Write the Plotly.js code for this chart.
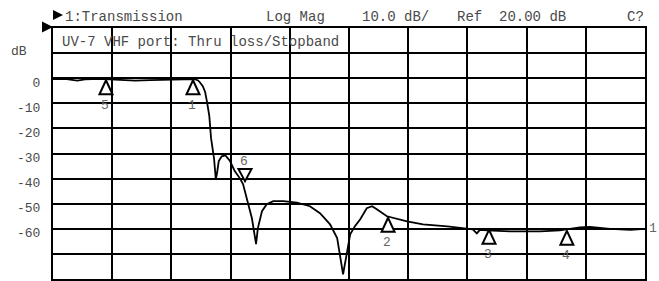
<!DOCTYPE html>
<html>
<head>
<meta charset="utf-8">
<script src="https://cdn.plot.ly/plotly-3.0.1.min.js"></script>
<style>html,body{margin:0;padding:0;background:#fff;}#chart{width:659px;height:281px;}</style>
</head>
<body>
<div id="chart"></div>
<script>
// Trace: x in graticule divisions (0..10), y in dB
const traceX = [0, 0.2, 0.41, 0.54, 0.79, 1.13, 1.39, 1.64, 1.98, 2.31, 2.40, 2.45, 2.48, 2.53, 2.57, 2.60, 2.64, 2.67, 2.72, 2.75, 2.77, 2.80, 2.85, 2.91, 2.99, 3.07, 3.16, 3.21, 3.29, 3.36, 3.43, 3.46, 3.53, 3.61, 3.72, 3.89, 4.12, 4.34, 4.51, 4.68, 4.80, 4.85, 4.90, 4.97, 5.02, 5.10, 5.19, 5.30, 5.39, 5.47, 5.64, 5.98, 6.25, 6.66, 7.09, 7.16, 7.21, 7.33, 7.72, 8.23, 8.56, 8.90, 9.07, 9.41, 9.75, 10];
const traceDB = [-0.4, -0.3, -1.0, -0.5, -0.3, -0.8, -1.0, -0.8, -0.5, -0.3, -0.4, -0.9, -1.6, -3.2, -5.5, -9.2, -15, -23.9, -31.9, -40.2, -38, -33, -31.1, -30.7, -33, -37, -40, -42.2, -49, -55.8, -66.1, -59.8, -53, -50.2, -49, -49, -49.6, -51, -53.8, -58.2, -63.7, -70.1, -78.1, -68.9, -62.2, -59, -56.2, -51.8, -51, -52.2, -55, -57, -58.2, -59, -60.2, -61.8, -60.4, -60.6, -61, -61, -60.6, -59.4, -59.2, -60, -60.4, -60];

// Markers
const markerLabels = ['5', '1', '6', '2', '3', '4'];
const markerX = [0.895, 2.365, 3.243, 5.66, 7.365, 8.68];
const markerDB = [-0.8, -0.8, -41, -55.6, -60.4, -60.8];
const markerDir = ['up', 'up', 'down', 'up', 'up', 'up'];

// Axis ticks
const yTickVals = [20, 10, 0, -10, -20, -30, -40, -50, -60, -70, -80];
const yTickText = ['', '', '0', '-10', '-20', '-30', '-40', '-50', '-60', '', ''];

// Header texts
const headerTexts = ['1:Transmission', 'Log Mag', '10.0 dB/', 'Ref  20.00 dB', 'C?'];
const headerOffsets = [12, 213, 309, 404, 574];
const subtitle = 'UV-7 VHF port: Thru loss/Stopband';

const FONT = 'Liberation Mono, Courier New, monospace';
const TXT = '#4a4a4a';

const shapes = [];
const annotations = [];

markerX.forEach((mx, i) => {
  const up = markerDir[i] === 'up';
  shapes.push({
    type: 'path', xref: 'x', yref: 'y',
    xsizemode: 'pixel', ysizemode: 'pixel',
    xanchor: mx, yanchor: markerDB[i],
    path: up ? 'M0,0 L-6.5,-14 L6.5,-14 Z' : 'M0,0 L-6.5,12 L6.5,12 Z',
    line: {color: '#000', width: 2}, fillcolor: '#fff', layer: 'above'
  });
  annotations.push({
    x: mx, y: markerDB[i], xref: 'x', yref: 'y', text: markerLabels[i], showarrow: false,
    xanchor: 'center', yanchor: 'middle', yshift: up ? -25 : 20, xshift: -1,
    font: {family: FONT, size: 13, color: '#666'}
  });
});

// right-end channel label
annotations.push({
  x: traceX[traceX.length - 1], y: traceDB[traceDB.length - 1], xref: 'x', yref: 'y',
  text: '1', showarrow: false, xanchor: 'left', yanchor: 'middle', xshift: 2,
  font: {family: FONT, size: 13, color: '#666'}
});

headerTexts.forEach((t, i) => {
  annotations.push({
    x: 0, y: 1, xref: 'paper', yref: 'paper', text: t, showarrow: false,
    xanchor: 'left', yanchor: 'middle', xshift: headerOffsets[i] - 2, yshift: 11,
    font: {family: FONT, size: 14, color: TXT}
  });
});
annotations.push({
  x: 0, y: 1, xref: 'paper', yref: 'paper', text: subtitle, showarrow: false,
  xanchor: 'left', yanchor: 'middle', xshift: 7, yshift: -14,
  font: {family: FONT, size: 14, color: TXT}
});
annotations.push({
  x: 0, y: 10, xref: 'paper', yref: 'y', text: 'dB', showarrow: false,
  xanchor: 'right', yanchor: 'middle', xshift: -24, yshift: 2,
  font: {family: FONT, size: 13, color: TXT}
});

// black pointer triangles (paper-referenced so they are not clipped)
shapes.push({
  type: 'path', xref: 'paper', yref: 'paper', xsizemode: 'pixel', ysizemode: 'pixel',
  xanchor: 0, yanchor: 1, path: 'M0,1 L-11,6.5 L-11,-4.5 Z',
  fillcolor: '#000', line: {width: 0}
});
shapes.push({
  type: 'path', xref: 'paper', yref: 'paper', xsizemode: 'pixel', ysizemode: 'pixel',
  xanchor: 0, yanchor: 1, path: 'M0,8 L0,18 L10,13 Z',
  fillcolor: '#000', line: {width: 0}
});

const data = [{
  x: traceX, y: traceDB, type: 'scatter', mode: 'lines',
  line: {color: '#000', width: 1.8}, hoverinfo: 'skip', cliponaxis: false
}];

const layout = {
  width: 659, height: 281,
  margin: {l: 53, r: 14, t: 28, b: 2, pad: 0},
  paper_bgcolor: '#fff', plot_bgcolor: '#fff',
  showlegend: false,
  xaxis: {
    range: [0, 10], dtick: 1, tick0: 0, showgrid: true, gridcolor: '#000', gridwidth: 2,
    showline: true, linecolor: '#000', linewidth: 2, mirror: true,
    zeroline: false, showticklabels: false, ticks: '', fixedrange: true
  },
  yaxis: {
    range: [-80, 20], tickmode: 'array', tickvals: yTickVals, ticktext: yTickText,
    showgrid: true, gridcolor: '#000', gridwidth: 2,
    showline: true, linecolor: '#000', linewidth: 2, mirror: true,
    zeroline: false, ticks: '', ticklabelstandoff: 8, ticklabelshift: 4,
    tickfont: {family: FONT, size: 13, color: TXT}, fixedrange: true
  },
  shapes: shapes,
  annotations: annotations
};

Plotly.newPlot('chart', data, layout, {staticPlot: true, displayModeBar: false});
</script>
</body>
</html>
